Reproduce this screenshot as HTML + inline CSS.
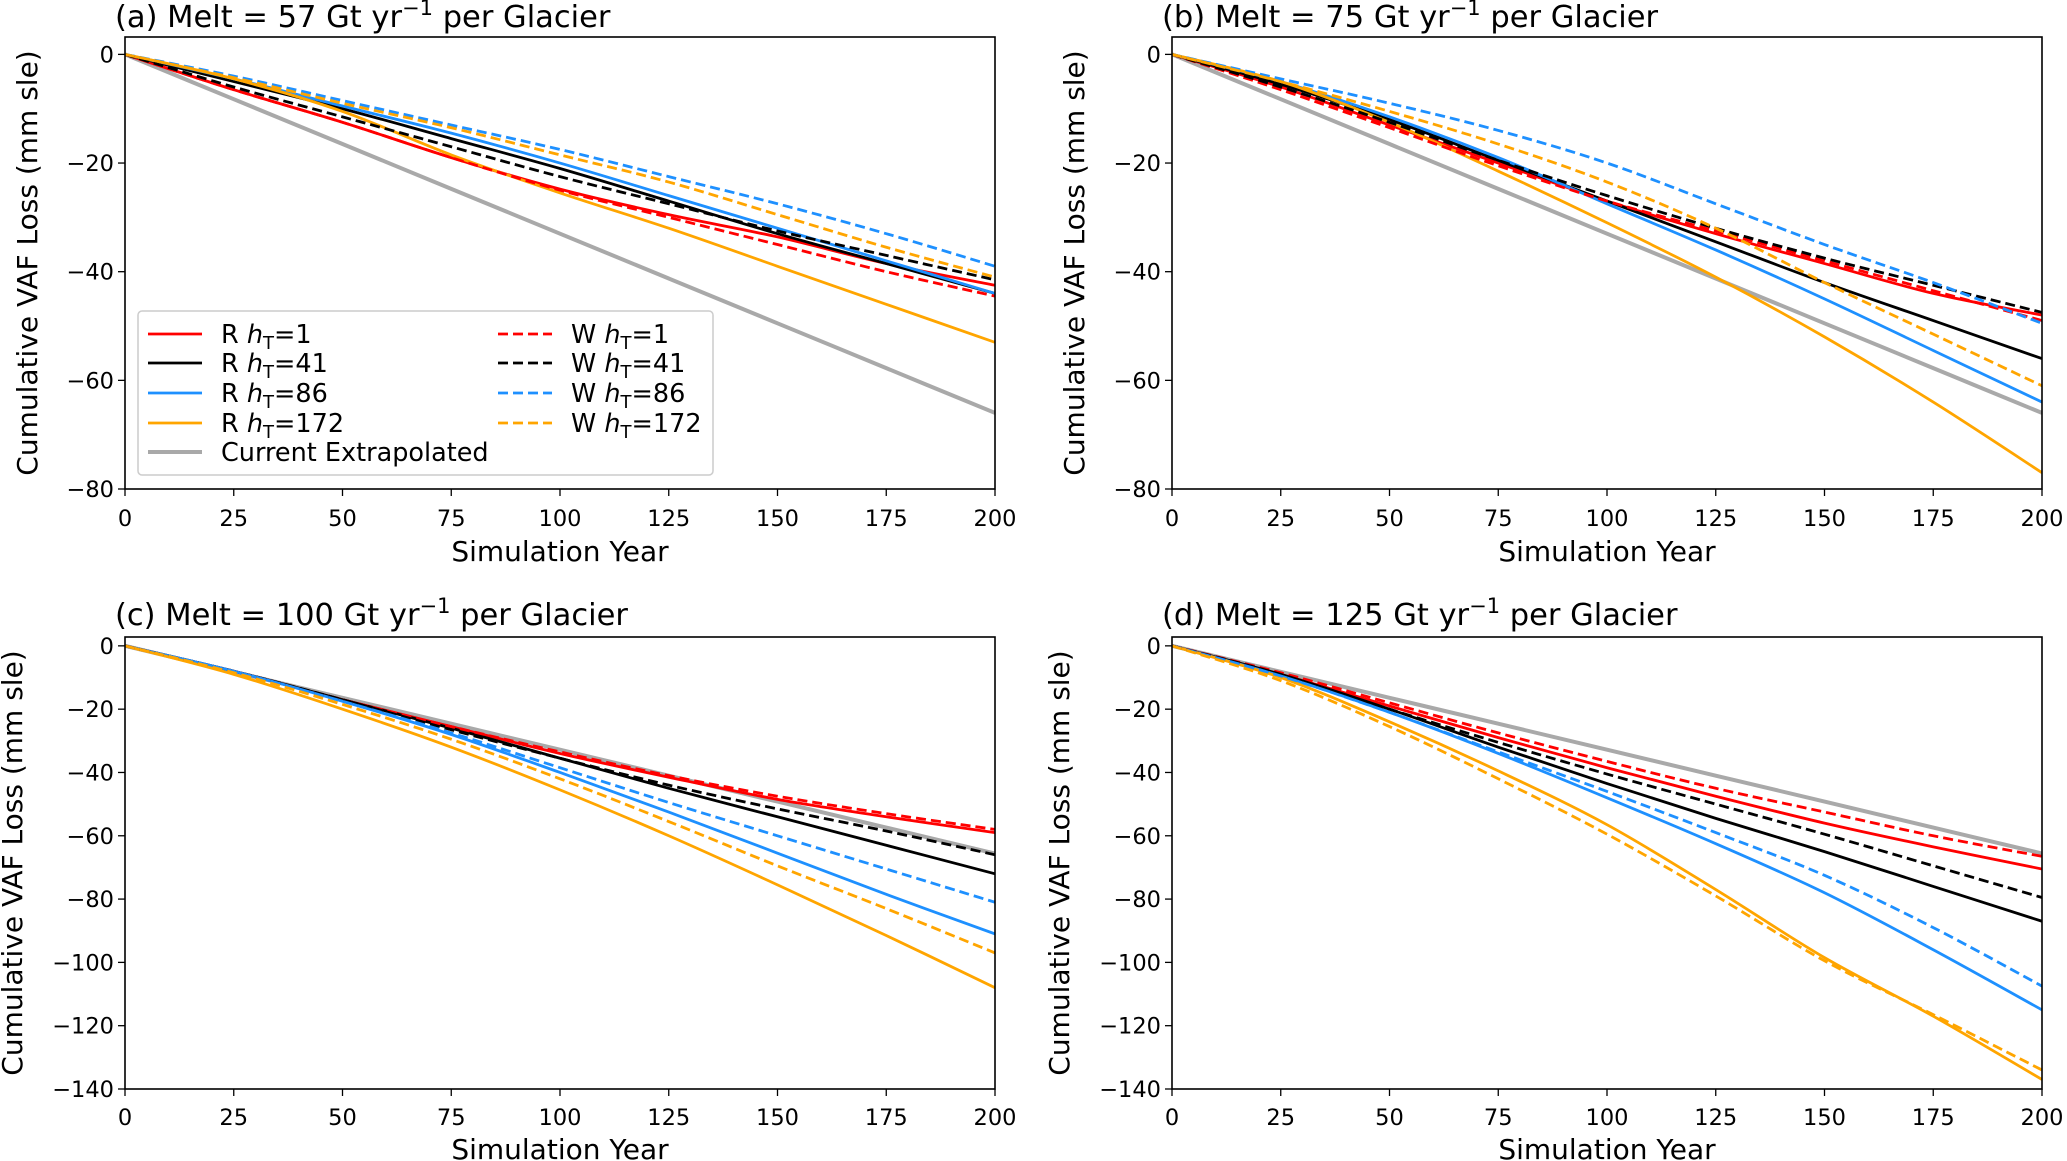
<!DOCTYPE html>
<html><head><meta charset="utf-8"><style>
html,body{margin:0;padding:0;background:#fff}
svg{display:block;font-family:"DejaVu Sans","Liberation Sans",sans-serif}
</style></head><body>
<svg id="fig" width="2067" height="1161" viewBox="0 0 2067 1161" xmlns="http://www.w3.org/2000/svg"></svg>
<script>
const years = [0,25,50,75,100,125,150,175,200];
const seriesNames = ["R1","R41","R86","R172","W1","W41","W86","W172"];
// panel a
const aR1=[0,-6.5,-12.5,-19,-24.8,-29.5,-33.6,-38.5,-42.5];
const aR41=[0,-5,-10,-15.5,-21,-27,-33,-38.5,-44];
const aR86=[0,-4.5,-9.5,-14.5,-20,-26,-32,-38,-44];
const aR172=[0,-4.5,-10.5,-18.5,-25.5,-32,-39,-46,-53];
const aW1=[0,-6.5,-12.5,-19,-25,-30,-35,-40,-44.5];
const aW41=[0,-6,-11.5,-17,-22.5,-27.5,-32.5,-37,-41.5];
const aW86=[0,-4,-8.5,-13,-17.5,-22.5,-27.5,-33,-39];
const aW172=[0,-4.3,-9,-13.5,-18.5,-23.5,-29.5,-35.5,-41];
const aGray=[0,-8.25,-16.5,-24.75,-33,-41.25,-49.5,-57.75,-66];
// panel b
const bR1=[0,-6,-13,-20,-27,-33,-38.5,-44,-48];
const bR41=[0,-5.5,-12,-19.5,-27,-34.5,-42,-49,-56];
const bR86=[0,-5,-11.5,-19,-27.5,-36,-45,-54.5,-64];
const bR172=[0,-5,-12.5,-21.5,-31,-41,-52,-64,-77];
const bW1=[0,-6.5,-13.5,-20.5,-27,-32.5,-38,-43.5,-49];
const bW41=[0,-6,-12.5,-19.5,-26,-32,-37.5,-42.5,-47.5];
const bW86=[0,-4.5,-9,-14,-20,-27.5,-35,-42,-49.5];
const bW172=[0,-5,-10.5,-16.5,-23.5,-32,-42,-51.5,-61];
const bGray=[0,-8.25,-16.5,-24.75,-33,-41.25,-49.5,-57.75,-66];
// panel c
const cR1=[0,-8,-17,-25.5,-34,-41.5,-48.5,-54,-59];
const cR41=[0,-8,-17,-26,-35.5,-45,-54,-63,-72];
const cR86=[0,-8,-17.5,-28,-40,-52.5,-65.5,-78.5,-91];
const cR172=[0,-9,-20,-32,-45.5,-60,-75.5,-91.5,-108];
const cW1=[0,-8,-17,-25.5,-33.5,-41,-47.5,-53,-58];
const cW41=[0,-8,-17,-26.5,-35.5,-44,-51.5,-58.5,-66];
const cW86=[0,-8,-17.5,-27.5,-38.5,-49.5,-60,-70.5,-81];
const cW172=[0,-8.5,-18.5,-29.5,-42,-55.5,-69.5,-83,-97];
const cGray=[0,-8.2,-16.4,-24.6,-32.8,-41,-49.2,-57.4,-65.6];
// panel d
const dR1=[0,-9,-19,-29,-38.5,-47.5,-56,-63.5,-70.5];
const dR41=[0,-9,-20,-32,-43.5,-54.5,-65,-76,-87];
const dR86=[0,-9.5,-21,-34,-48,-62.5,-78,-96,-115];
const dR172=[0,-10,-24,-39.5,-56.5,-77,-98.5,-117,-137];
const dW1=[0,-8.5,-18,-27.5,-36.5,-45,-52.5,-60,-66.5];
const dW41=[0,-9,-20,-30.5,-40.5,-50,-59.5,-69.5,-79.5];
const dW86=[0,-9.5,-21,-33.5,-46,-59,-72.5,-89,-107.5];
const dW172=[0,-11,-25.5,-42,-59.5,-79,-99.5,-116.5,-134];
const dGray=[0,-8.2,-16.4,-24.6,-32.8,-41,-49.2,-57.4,-65.6];
const xTicks=[0,25,50,75,100,125,150,175,200];
const yTicksTop=[0,-20,-40,-60,-80];
const yTicksBot=[0,-20,-40,-60,-80,-100,-120,-140];
const titles=["(a) Melt = 57 Gt yr","(b) Melt = 75 Gt yr","(c) Melt = 100 Gt yr","(d) Melt = 125 Gt yr"];

const NS="http://www.w3.org/2000/svg";
const svg=document.getElementById('fig');
function mk(tag,attrs,parent){const e=document.createElementNS(NS,tag);for(const k in attrs)e.setAttribute(k,attrs[k]);(parent||svg).appendChild(e);return e;}
const colors={R1:"#ff0000",R41:"#000000",R86:"#1e90ff",R172:"#ffa500",W1:"#ff0000",W41:"#000000",W86:"#1e90ff",W172:"#ffa500"};
const panels=[
 {id:"a",L:125,R:995,T:37,B:489,yMin:-80,yMax:3.2,ticks:yTicksTop,ylx:27,data:{R1:aR1,R41:aR41,R86:aR86,R172:aR172,W1:aW1,W41:aW41,W86:aW86,W172:aW172},gray:aGray,titleY:27,tickY:526,labY:561},
 {id:"b",L:1172,R:2042,T:37,B:489,yMin:-80,yMax:3.2,ticks:yTicksTop,ylx:1074,data:{R1:bR1,R41:bR41,R86:bR86,R172:bR172,W1:bW1,W41:bW41,W86:bW86,W172:bW172},gray:bGray,titleY:27,tickY:526,labY:561},
 {id:"c",L:125,R:995,T:637,B:1089,yMin:-140,yMax:2.8,ticks:yTicksBot,ylx:12,data:{R1:cR1,R41:cR41,R86:cR86,R172:cR172,W1:cW1,W41:cW41,W86:cW86,W172:cW172},gray:cGray,titleY:625,tickY:1125,labY:1159},
 {id:"d",L:1172,R:2042,T:637,B:1089,yMin:-140,yMax:2.8,ticks:yTicksBot,ylx:1059,data:{R1:dR1,R41:dR41,R86:dR86,R172:dR172,W1:dW1,W41:dW41,W86:dW86,W172:dW172},gray:dGray,titleY:625,tickY:1125,labY:1159}
];
function pathD(pts){let d=`M${pts[0][0]},${pts[0][1]}`;for(let i=0;i<pts.length-1;i++){const p0=pts[i-1]||pts[i],p1=pts[i],p2=pts[i+1],p3=pts[i+2]||p2;const c1=[p1[0]+(p2[0]-p0[0])/6,p1[1]+(p2[1]-p0[1])/6],c2=[p2[0]-(p3[0]-p1[0])/6,p2[1]-(p3[1]-p1[1])/6];d+=` C${c1[0]},${c1[1]} ${c2[0]},${c2[1]} ${p2[0]},${p2[1]}`;}return d;}
panels.forEach((p,pi)=>{
 const g=mk('g',{});
 
 
 const xs=v=>p.L+(v-0)/200*(p.R-p.L);
 const ys=v=>p.T+(p.yMax-v)/(p.yMax-p.yMin)*(p.B-p.T);
 const clip=mk('clipPath',{id:'clip'+p.id},g);mk('rect',{x:p.L,y:p.T,width:p.R-p.L,height:p.B-p.T},clip);
 const lines=mk('g',{'clip-path':`url(#clip${p.id})`},g);
 const gp=mk('path',{d:pathD(years.map((y,i)=>[xs(y),ys(p.gray[i])])),fill:'none',stroke:'#a9a9a9','stroke-width':4},lines);
 
 
 seriesNames.forEach(s=>{
  const dashed=s[0]==='W';
  const el=mk('path',{d:pathD(years.map((y,i)=>[xs(y),ys(p.data[s][i])])),fill:'none',stroke:colors[s],'stroke-width':2.8},lines);
  if(dashed)el.setAttribute('stroke-dasharray','10 5');
  
  
 });
 const fr=mk('rect',{x:p.L,y:p.T,width:p.R-p.L,height:p.B-p.T,fill:'none',stroke:'#000','stroke-width':1.6},g);
 
 
 xTicks.forEach(t=>{const x=xs(t);mk('line',{x1:x,x2:x,y1:p.B,y2:p.B+7,stroke:'#000','stroke-width':1.3},g);
  const tx=mk('text',{x:x,y:p.tickY,'font-size':22.5,'text-anchor':'middle'},g);tx.textContent=t;
  
  });
 p.ticks.forEach(t=>{const y=ys(t);mk('line',{x1:p.L-7,x2:p.L,y1:y,y2:y,stroke:'#000','stroke-width':1.3},g);
  const tx=mk('text',{x:p.L-11,y:y+8,'font-size':22.5,'text-anchor':'end'},g);tx.textContent=t===0?'0':'\u2212'+Math.abs(t);
  
  });
 const xl=mk('text',{x:(p.L+p.R)/2,y:p.labY,'font-size':28,'text-anchor':'middle'},g);xl.textContent='Simulation Year';
 
 
 const cy=(p.T+p.B)/2;
 const yl=mk('text',{x:p.ylx+10,y:cy,'font-size':28,'text-anchor':'middle',transform:`rotate(-90 ${p.ylx+10} ${cy})`},g);yl.textContent='Cumulative VAF Loss (mm sle)';
 
 
 const tt=mk('text',{x:p.L-10,y:p.titleY,'font-size':30.5},g);
 
 
 tt.innerHTML=titles[pi]+'<tspan dy="-12" font-size="21">\u22121</tspan><tspan dy="12"> per Glacier</tspan>';
});
// legend (panel a)
const lg=mk('g',{});


mk('rect',{x:138,y:311,width:575,height:164,rx:4,fill:'#fff','fill-opacity':0.8,stroke:'#ccc','stroke-width':1.5},lg);
const legRows=[334,363,393,423];
seriesNames.forEach((s,i)=>{
 const col=i<4?0:1,row=i%4,y=legRows[row];
 const x1=col?498:148,tx=col?571:221;
 const ln=mk('line',{x1:x1,x2:x1+54,y1:y,y2:y,stroke:colors[s],'stroke-width':2.8},lg);
 if(s[0]==='W')ln.setAttribute('stroke-dasharray','10 5');
 const t=mk('text',{x:tx,y:y+9,'font-size':25.5},lg);
 
 
 t.innerHTML=s[0]+' <tspan font-style="italic">h</tspan><tspan font-size="18" dy="6">T</tspan><tspan dy="-6">='+s.slice(1)+'</tspan>';
});
mk('line',{x1:148,x2:202,y1:452,y2:452,stroke:'#a9a9a9','stroke-width':4},lg);
const ce=mk('text',{x:221,y:461,'font-size':25.5},lg);ce.textContent='Current Extrapolated';


</script>
</body></html>
